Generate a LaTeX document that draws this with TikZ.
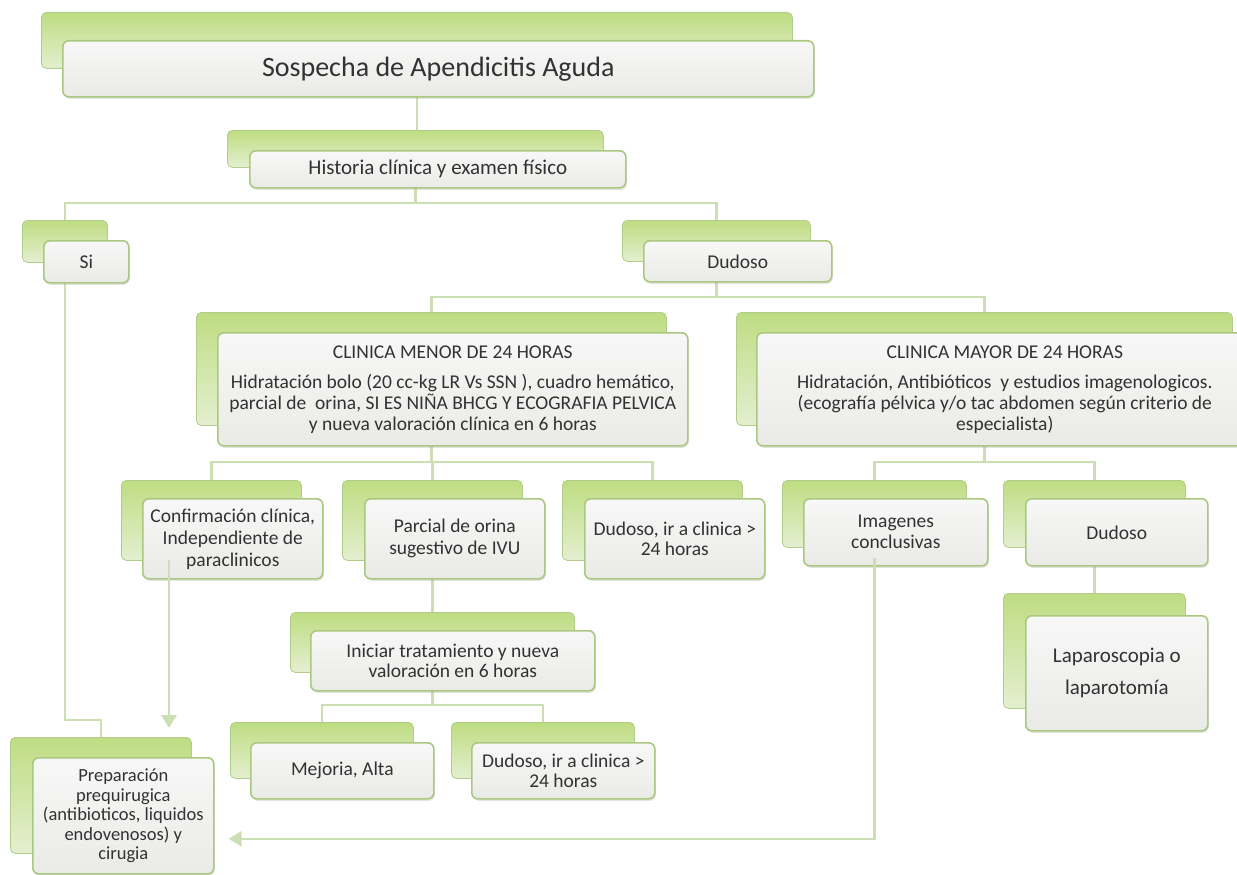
\documentclass[tikz,border=0pt]{standalone}
\usepackage{fontspec}
\setmainfont{Carlito}
\usetikzlibrary{arrows.meta,shadows}
\definecolor{backtop}{RGB}{190,221,130}
\definecolor{backbot}{RGB}{228,239,208}
\definecolor{backedge}{RGB}{178,204,140}
\definecolor{frontedge}{RGB}{170,200,128}
\definecolor{frontbot}{RGB}{234,235,231}
\definecolor{conncol}{RGB}{204,223,178}
\definecolor{txtcol}{RGB}{50,50,50}
\pgfdeclarelayer{bg}
\pgfsetlayers{bg,main}
\tikzset{
  backbox/.style={anchor=north west, rectangle, rounded corners=5pt, top color=backtop, bottom color=backbot, draw=backedge, line width=0.8pt, inner sep=0pt},
  frontbox/.style={anchor=north west, rectangle, rounded corners=6pt, top color=white!97!black, bottom color=frontbot, draw=frontedge, line width=1.6pt, inner sep=2pt, align=center, text=txtcol, font=\fontsize{19.5}{21}\selectfont, drop shadow={opacity=0.22, shadow xshift=1pt, shadow yshift=-2pt}},
  conn/.style={draw=conncol, line width=2.6pt},
  arr/.style={conn, -{Triangle[width=15pt,length=13pt]}, conncol},
}
\newcommand\smbox[9]{%
  \node[backbox, minimum width={(#4-#2)*1pt}, minimum height={(#5-#3)*1pt}] (#1-b) at (#6,#7) {};
  \node[frontbox, minimum width={(#4-#2)*1pt}, minimum height={(#5-#3)*1pt}, #8] (#1) at (#2,#3) {#9};
}
\begin{document}
\begin{tikzpicture}[x=1pt,y=-1pt]
\useasboundingbox (0,0) rectangle (1237,875);
% boxes
\smbox{t}{62}{40}{813}{96}{41}{12}{font=\fontsize{28}{32}\selectfont}{Sospecha de Apendicitis Aguda}
\smbox{hist}{249}{150}{625}{187}{227}{130}{font=\fontsize{21}{23}\selectfont}{Historia clínica y examen físico}
\smbox{si}{43}{240}{128}{282}{22}{220}{}{Si}
\smbox{dud}{643}{240}{831}{281}{622}{220}{}{Dudoso}
\smbox{cmen}{217}{332}{687}{445}{196}{312}{}{CLINICA MENOR DE 24 HORAS\\[9pt]Hidratación bolo (20 cc-kg LR Vs SSN ), cuadro hemático,\\parcial de\ \ orina, SI ES NIÑA BHCG Y ECOGRAFIA PELVICA\\y nueva valoración clínica en 6 horas}
\smbox{cmay}{756}{332}{1252}{445}{736}{312}{}{CLINICA MAYOR DE 24 HORAS\\[9pt]Hidratación, Antibióticos\ \ y estudios imagenologicos.\\(ecografía pélvica y/o tac abdomen según criterio de\\especialista)}
\smbox{conf}{142}{498}{322}{578}{121}{480}{font=\fontsize{19.5}{22}\selectfont}{Confirmación clínica,\\Independiente de\\paraclinicos}
\smbox{parc}{364}{498}{544}{578}{342}{480}{font=\fontsize{19.5}{22}\selectfont}{Parcial de orina\\sugestivo de IVU}
\smbox{dudir}{584}{498}{764}{578}{562}{480}{font=\fontsize{19.5}{20}\selectfont}{Dudoso, ir a clinica >\\24 horas}
\smbox{imag}{803}{498}{987}{565}{782}{480}{}{Imagenes\\conclusivas}
\smbox{dudtwo}{1025}{498}{1207}{565}{1003}{480}{}{Dudoso}
\smbox{lap}{1025}{615}{1207}{730}{1003}{593}{font=\fontsize{21}{32}\selectfont}{Laparoscopia o\\laparotomía}
\smbox{inic}{310}{630}{594}{690}{290}{612}{font=\fontsize{19.5}{20}\selectfont}{Iniciar tratamiento y nueva\\valoración en 6 horas}
\smbox{mej}{250}{742}{433}{798}{230}{722}{}{Mejoria, Alta}
\smbox{dudirtwo}{471}{742}{654}{798}{451}{722}{font=\fontsize{19.5}{20}\selectfont}{Dudoso, ir a clinica >\\24 horas}
\smbox{prep}{32}{757}{213}{873}{10}{737}{font=\fontsize{18.5}{19.5}\selectfont}{Preparación\\prequirugica\\(antibioticos, liquidos\\endovenosos) y\\cirugia}
% connectors
\begin{pgfonlayer}{bg}
\draw[conn] (t-b.south) -- (t-b.south |- hist-b.north);
\draw[conn] (hist-b.south) -- (hist-b.south |- 0,203) -| (si-b.north);
\draw[conn] (hist-b.south |- 0,203) -| (dud-b.north);
\draw[conn] (dud-b.south) -- (dud-b.south |- 0,297) -| (cmen-b.north);
\draw[conn] (dud-b.south |- 0,297) -| (cmay-b.north);
\draw[conn] (cmen-b.south) -- (cmen-b.south |- 0,462) -| (conf-b.north);
\draw[conn] (cmen-b.south |- 0,462) -| (parc-b.north);
\draw[conn] (cmen-b.south |- 0,462) -| (dudir-b.north);
\draw[conn] (cmay-b.south) -- (cmay-b.south |- 0,462) -| (imag-b.north);
\draw[conn] (cmay-b.south |- 0,462) -| (dudtwo-b.north);
\draw[conn] (dudtwo-b.south) -- (lap-b.north);
\draw[conn] (parc-b.south) -- (parc-b.south |- inic-b.north);
\draw[conn] (inic-b.south) -- (inic-b.south |- 0,705) -| (mej-b.north);
\draw[conn] (inic-b.south |- 0,705) -| (dudirtwo-b.north);
\draw[conn] (si-b.south) -- (si-b.south |- 0,720) -| (prep-b.north);
\end{pgfonlayer}
\draw[arr, shorten >=9pt] ([xshift=27pt,yshift=20pt]conf.south west) -- ([xshift=27pt]conf.south west |- prep-b.north);
\draw[arr, shorten >=14pt] ([yshift=-10pt]imag-b.south) |- ([yshift=-23pt]prep.east);
\end{tikzpicture}
\end{document}
